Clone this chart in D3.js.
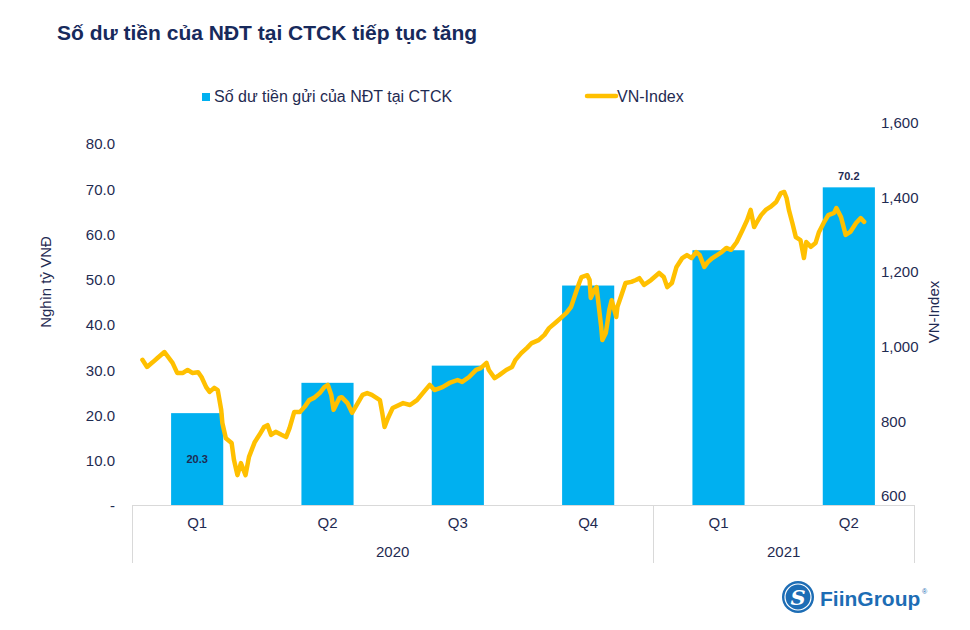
<!DOCTYPE html>
<html>
<head>
<meta charset="utf-8">
<script src="https://cdn.jsdelivr.net/npm/d3@7"></script>
<style>
  html, body { margin: 0; padding: 0; background: #ffffff; }
  svg { display: block; font-family: "Liberation Sans", Arial, sans-serif; }
</style>
</head>
<body>
<svg id="chart" width="970" height="630"></svg>
<script>
// ---------------- DATA ----------------
const quarters = ["Q1", "Q2", "Q3", "Q4", "Q1", "Q2"];
const years = ["2020", "2020", "2020", "2020", "2021", "2021"];
const depositValues = [20.3, 27.0, 30.8, 48.5, 56.3, 70.2];
const depositLabels = ["20.3", "", "", "", "", "70.2"];

const leftTicks = [0, 10, 20, 30, 40, 50, 60, 70, 80];
const rightTicks = [600, 800, 1000, 1200, 1400, 1600];

const vnDates = [
  "2019-12-25","2019-12-29","2020-01-03","2020-01-07","2020-01-13","2020-01-20","2020-01-24","2020-01-29",
  "2020-02-02","2020-02-06","2020-02-11","2020-02-14","2020-02-18","2020-02-21","2020-02-25","2020-02-28",
  "2020-03-02","2020-03-03","2020-03-06","2020-03-11","2020-03-13","2020-03-16","2020-03-19","2020-03-23",
  "2020-03-26","2020-03-31","2020-04-04","2020-04-08","2020-04-11","2020-04-14","2020-04-18","2020-04-23",
  "2020-04-27","2020-04-30","2020-05-04","2020-05-09","2020-05-13","2020-05-17","2020-05-21","2020-05-26",
  "2020-05-30","2020-06-02","2020-06-05","2020-06-07","2020-06-12","2020-06-14","2020-06-19","2020-06-23",
  "2020-06-26","2020-07-02","2020-07-06","2020-07-10","2020-07-14","2020-07-17","2020-07-19","2020-07-21",
  "2020-07-24","2020-07-28","2020-08-06","2020-08-12","2020-08-18","2020-08-23","2020-08-29","2020-09-02",
  "2020-09-09","2020-09-15","2020-09-22","2020-09-26","2020-10-02","2020-10-08","2020-10-12","2020-10-17",
  "2020-10-19","2020-10-24","2020-10-28","2020-11-03","2020-11-08","2020-11-11","2020-11-16","2020-11-21",
  "2020-11-25","2020-12-01","2020-12-06","2020-12-10","2020-12-16","2020-12-20","2020-12-25","2020-12-29",
  "2021-01-02","2021-01-05","2021-01-07","2021-01-12","2021-01-14","2021-01-15","2021-01-18","2021-01-20",
  "2021-01-24","2021-01-25","2021-01-28","2021-01-31","2021-02-02","2021-02-06","2021-02-07","2021-02-10",
  "2021-02-14","2021-02-19","2021-02-23","2021-02-26","2021-03-02","2021-03-08","2021-03-15","2021-03-19",
  "2021-03-22","2021-03-26","2021-03-30","2021-04-04","2021-04-08","2021-04-12","2021-04-16","2021-04-19",
  "2021-04-23","2021-04-26","2021-04-30","2021-05-04","2021-05-08","2021-05-12","2021-05-16","2021-05-21",
  "2021-05-26","2021-05-30","2021-06-02","2021-06-05","2021-06-07","2021-06-11","2021-06-15","2021-06-19",
  "2021-06-24","2021-06-28","2021-07-01","2021-07-03","2021-07-05","2021-07-08","2021-07-11","2021-07-15",
  "2021-07-18","2021-07-20","2021-07-24","2021-07-28","2021-07-31","2021-08-04","2021-08-08","2021-08-13",
  "2021-08-15","2021-08-19","2021-08-23","2021-08-27","2021-09-01","2021-09-05","2021-09-08"
];
const vnValues = [
  965, 946, 959, 970, 986, 957, 930, 930,
  938, 930, 932, 919, 892, 879, 890, 884,
  831, 796, 755, 742, 697, 656, 688, 656,
  705, 745, 764, 785, 790, 764, 772, 764,
  758, 782, 825, 825, 839, 857, 863, 876,
  892, 898, 871, 831, 863, 865, 849, 823,
  839, 871, 876, 871, 863, 857, 823, 785,
  809, 836, 849, 844, 857, 876, 898, 884,
  892, 903, 911, 906, 919, 938, 943, 957,
  938, 916, 924, 938, 946, 965, 983, 997,
  1010, 1018, 1032, 1050, 1066, 1077, 1091, 1107,
  1144, 1171, 1187, 1192, 1179, 1131, 1152, 1160,
  1053, 1018, 1037, 1099, 1125, 1080, 1107, 1134,
  1171, 1174, 1179, 1184, 1166, 1179, 1198, 1187,
  1160, 1171, 1214, 1238, 1246, 1238, 1254, 1246,
  1214, 1227, 1238, 1246, 1254, 1265, 1260, 1281,
  1313, 1340, 1367, 1321, 1332, 1353, 1367, 1375,
  1388, 1412, 1415, 1399, 1367, 1332, 1294, 1286,
  1238, 1281, 1268, 1278, 1308, 1332, 1353, 1359,
  1372, 1348, 1300, 1308, 1332, 1345, 1335
];

// ---------------- LAYOUT ----------------
const svg = d3.select("#chart");
const textColor = "#1F2B52";
const titleColor = "#172A5C";
const barColor = "#00B0F0";
const lineColor = "#FFC000";
const gridColor = "#D9D9D9";

const plotLeft = 132, plotRight = 914;
const xAxisY = 505, axisBottom = 563;

const cats = quarters.map((q, i) => i);
const x = d3.scaleBand().domain(cats).range([plotLeft, plotRight])
  .paddingInner(0.6).paddingOuter(0.3);
const yL = d3.scaleLinear().domain([0, 80]).range([xAxisY, 143]);
const yR = d3.scaleLinear().domain([600, 1600]).range([496, 123]);
const parse = d3.timeParse("%Y-%m-%d");
const xT = d3.scaleTime()
  .domain([parse("2019-12-16"), parse("2021-10-21")])
  .range([plotLeft, plotRight]);

// Title
svg.append("text")
  .attr("x", 57).attr("y", 40)
  .attr("font-size", 21).attr("font-weight", "bold")
  .attr("fill", titleColor)
  .text("Số dư tiền của NĐT tại CTCK tiếp tục tăng");

// Legend
svg.append("rect").attr("x", 202).attr("y", 93).attr("width", 8).attr("height", 8).attr("fill", barColor);
svg.append("text").attr("x", 214).attr("y", 102).attr("font-size", 16).attr("fill", textColor)
  .text("Số dư tiền gửi của NĐT tại CTCK");
svg.append("line").attr("x1", 587).attr("x2", 616).attr("y1", 96).attr("y2", 96)
  .attr("stroke", lineColor).attr("stroke-width", 4.5).attr("stroke-linecap", "round");
svg.append("text").attr("x", 617).attr("y", 102).attr("font-size", 16).attr("fill", textColor)
  .text("VN-Index");

// Bars
svg.append("g").selectAll("rect").data(depositValues).join("rect")
  .attr("x", (d, i) => x(i))
  .attr("width", x.bandwidth())
  .attr("y", d => yL(d))
  .attr("height", d => yL(0) - yL(d))
  .attr("fill", barColor);

// X axis line and separators
svg.append("line").attr("x1", plotLeft).attr("x2", plotRight).attr("y1", xAxisY + 0.5).attr("y2", xAxisY + 0.5)
  .attr("stroke", gridColor).attr("stroke-width", 1);
const slotEdge = i => x(i) + x.bandwidth() / 2 - x.step() / 2;
const separators = [slotEdge(0), slotEdge(4), slotEdge(5) + x.step()];
svg.append("g").selectAll("line").data(separators).join("line")
  .attr("x1", d => Math.round(d) + 0.5).attr("x2", d => Math.round(d) + 0.5)
  .attr("y1", xAxisY).attr("y2", axisBottom)
  .attr("stroke", gridColor).attr("stroke-width", 1);

// Quarter labels
svg.append("g").selectAll("text").data(quarters).join("text")
  .attr("x", (d, i) => x(i) + x.bandwidth() / 2)
  .attr("y", 528)
  .attr("text-anchor", "middle").attr("font-size", 15).attr("fill", textColor)
  .text(d => d);

// Year labels
const yearGroups = d3.groups(cats, i => years[i]);
svg.append("g").selectAll("text").data(yearGroups).join("text")
  .attr("x", d => (slotEdge(d[1][0]) + slotEdge(d[1][d[1].length - 1]) + x.step()) / 2)
  .attr("y", 557)
  .attr("text-anchor", "middle").attr("font-size", 15).attr("fill", textColor)
  .text(d => d[0]);

// Left axis labels
svg.append("g").selectAll("text").data(leftTicks).join("text")
  .attr("x", 115).attr("y", d => yL(d) + 1).attr("dy", "0.35em")
  .attr("text-anchor", "end").attr("font-size", 15).attr("fill", textColor)
  .text(d => d === 0 ? "-" : d3.format(".1f")(d));

// Right axis labels
svg.append("g").selectAll("text").data(rightTicks).join("text")
  .attr("x", 881).attr("y", d => yR(d)).attr("dy", "0.35em")
  .attr("text-anchor", "start").attr("font-size", 15).attr("fill", textColor)
  .text(d => d3.format(",")(d));

// Axis titles
svg.append("text").attr("transform", "translate(51,282) rotate(-90)")
  .attr("text-anchor", "middle").attr("font-size", 15).attr("fill", textColor)
  .text("Nghìn tỷ VNĐ");
svg.append("text").attr("transform", "translate(939,312) rotate(-90)")
  .attr("text-anchor", "middle").attr("font-size", 15).attr("fill", textColor)
  .text("VN-Index");

// VN-Index line
const vnData = vnDates.map((d, i) => ({ date: parse(d), value: vnValues[i] }));
svg.append("path").datum(vnData)
  .attr("fill", "none").attr("stroke", lineColor).attr("stroke-width", 4.5)
  .attr("stroke-linejoin", "round").attr("stroke-linecap", "round")
  .attr("d", d3.line().x(d => xT(d.date)).y(d => yR(d.value)));

// Data labels
svg.append("g").selectAll("text").data(depositValues).join("text")
  .attr("x", (d, i) => x(i) + x.bandwidth() / 2)
  .attr("y", (d, i) => i === 0 ? (yL(d) + yL(0)) / 2 : yL(d) - 11)
  .attr("dy", "0.35em")
  .attr("text-anchor", "middle").attr("font-size", 11).attr("font-weight", "bold")
  .attr("fill", textColor)
  .text((d, i) => depositLabels[i]);

// Logo
const logo = svg.append("g");
logo.append("circle").attr("cx", 798).attr("cy", 597).attr("r", 16).attr("fill", "#1D6DB5");
logo.append("circle").attr("cx", 798).attr("cy", 597).attr("r", 13).attr("fill", "none")
  .attr("stroke", "#ffffff").attr("stroke-width", 1.2);
logo.append("text").attr("x", 798).attr("y", 605).attr("text-anchor", "middle")
  .attr("font-size", 21).attr("font-weight", "bold").attr("font-style", "italic")
  .attr("font-family", "DejaVu Serif, serif").attr("fill", "#ffffff").text("S");
logo.append("text").attr("x", 820).attr("y", 606)
  .attr("font-size", 21).attr("font-weight", "bold").attr("fill", "#1D6DB5").text("FiinGroup");
logo.append("text").attr("x", 922).attr("y", 594)
  .attr("font-size", 7).attr("fill", "#1D6DB5").text("®");
</script>
</body>
</html>
